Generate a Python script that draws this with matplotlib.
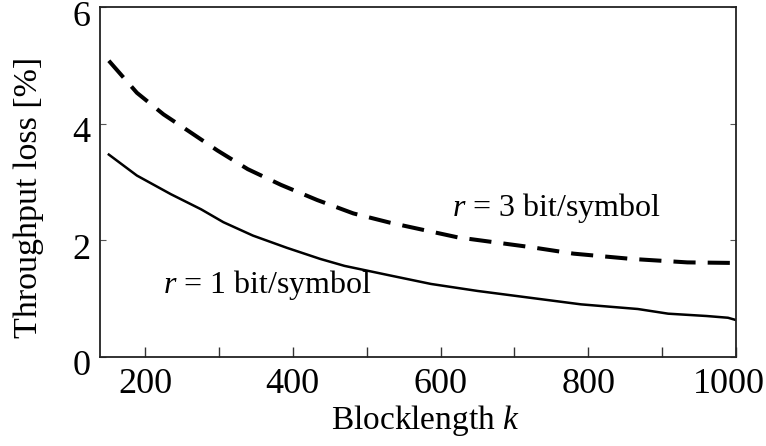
import matplotlib
matplotlib.use("Agg")
import matplotlib.pyplot as plt
from matplotlib.ticker import FixedLocator
from matplotlib.transforms import ScaledTranslation

plt.rcParams['font.family'] = ['Liberation Serif', 'DejaVu Serif']
plt.rcParams['mathtext.fontset'] = 'custom'
plt.rcParams['mathtext.rm'] = 'Liberation Serif'
plt.rcParams['mathtext.it'] = 'Liberation Serif:italic'

# Data
k_r1 = [151, 189, 235, 276, 306, 346, 392, 437, 470, 530, 587, 650, 723, 790, 867, 908, 960, 989, 1000]
loss_r1 = [3.47, 3.11, 2.79, 2.53, 2.31, 2.08, 1.87, 1.68, 1.56, 1.40, 1.25, 1.13, 1.01, 0.90, 0.82, 0.74, 0.70, 0.67, 0.63]

k_r3 = [151, 189, 225, 257, 298, 339, 384, 433, 482, 532, 623, 723, 780, 858, 934, 1000]
loss_r3 = [5.08, 4.53, 4.16, 3.89, 3.54, 3.22, 2.95, 2.69, 2.46, 2.30, 2.05, 1.88, 1.77, 1.68, 1.62, 1.61]

x_major = [200, 400, 600, 800, 1000]
x_minor = [300, 500, 700, 900]
y_ticks = [0, 2, 4, 6]

fig = plt.figure(figsize=(7.66, 4.46), dpi=100)
ax = fig.add_axes([0.1305, 0.2, 0.8305, 0.784])

ax.plot(k_r1, loss_r1, color='black', lw=1.8, solid_joinstyle='round')
ax.plot(k_r3, loss_r3, color='black', lw=2.9, linestyle=(0, (5.5, 3.0)), dash_capstyle='butt')

ax.set_xlim(139, 1000)
ax.set_ylim(0, 6)
ax.xaxis.set_major_locator(FixedLocator(x_major))
ax.xaxis.set_minor_locator(FixedLocator(x_minor))
ax.yaxis.set_major_locator(FixedLocator(y_ticks))

ax.tick_params(axis='x', which='both', direction='in', length=7.5, width=1.0, top=False,
               labelsize=26, pad=8, color='#333333')
ax.tick_params(axis='y', which='major', direction='in', length=4, width=0.8, right=True,
               labelsize=26, pad=7, color='#555555')
for s in ax.spines.values():
    s.set_linewidth(1.3)
    s.set_color('#222222')

fig.canvas.draw()
for lab in ax.get_yticklabels():
    lab.set_transform(lab.get_transform() + ScaledTranslation(0, -0.06, fig.dpi_scale_trans))
xl = ax.get_xticklabels()
xl[-1].set_transform(xl[-1].get_transform() + ScaledTranslation(-0.07, 0, fig.dpi_scale_trans))

ax.set_xlabel('Blocklength $k$', fontsize=24, va='center')
ax.xaxis.set_label_coords(0.511, -0.183)
ax.set_ylabel('Throughput loss [%]', fontsize=24.5, va='center')
ax.yaxis.set_label_coords(-0.112, 0.457)

ax.text(757, 2.56, '$r$ = 3 bit/symbol', fontsize=23, ha='center', va='center')
ax.text(366, 1.24, '$r$ = 1 bit/symbol', fontsize=23, ha='center', va='center')

fig.savefig('out.png', dpi=100)
